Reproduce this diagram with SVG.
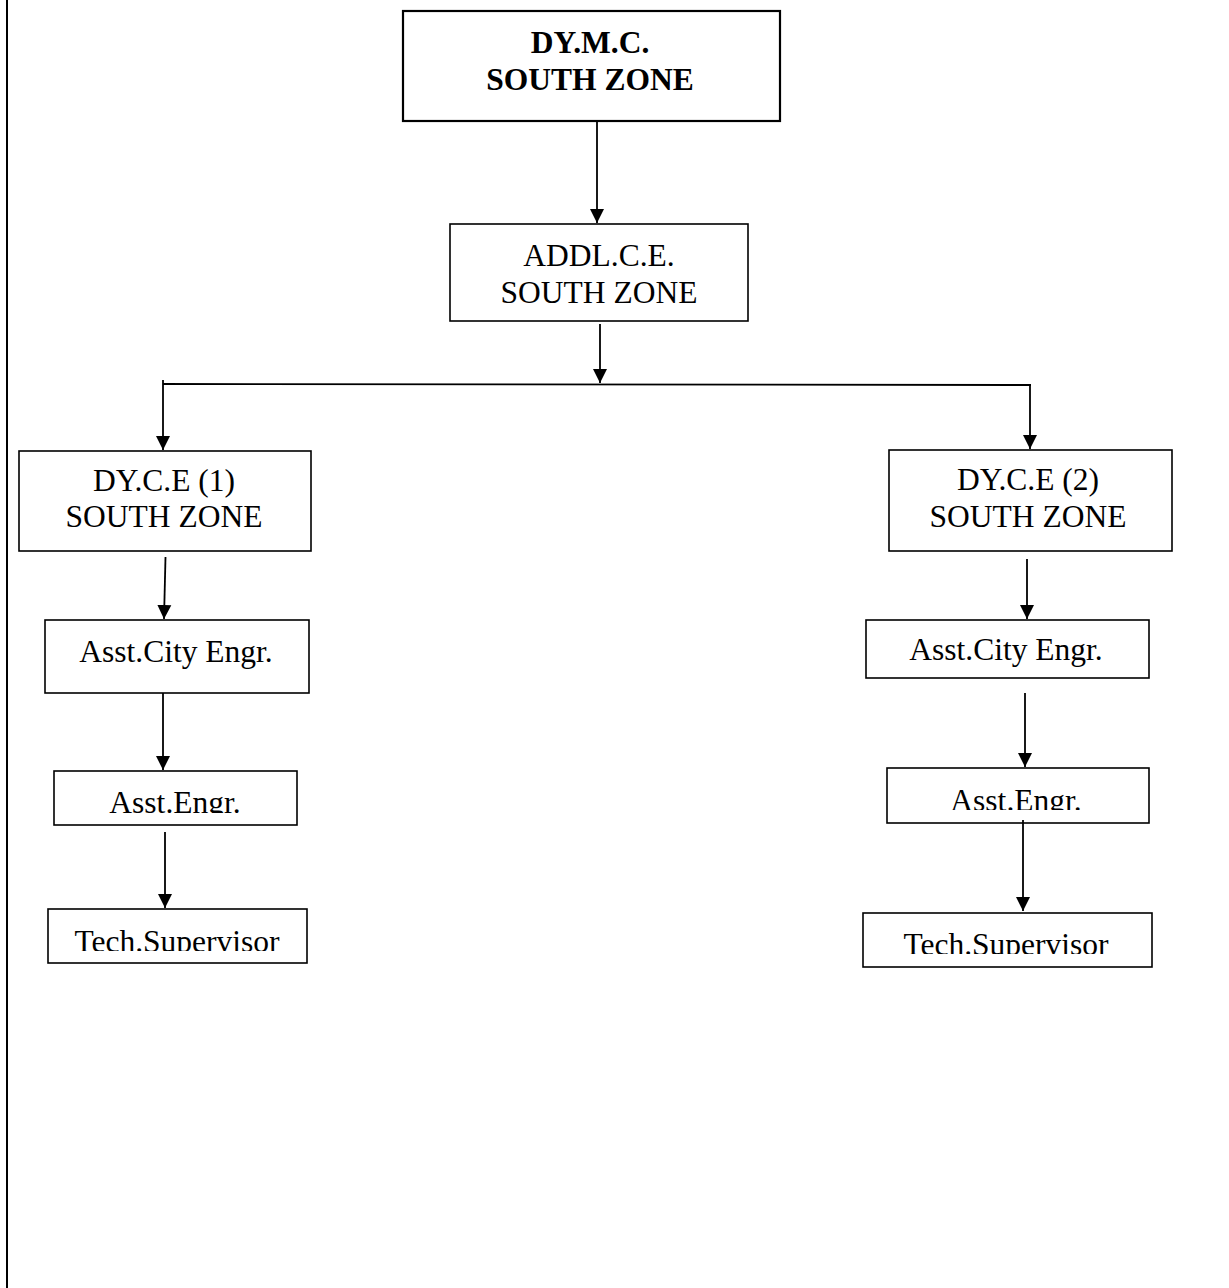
<svg xmlns="http://www.w3.org/2000/svg" width="1229" height="1288" viewBox="0 0 1229 1288">
<style>
  .box { fill: #fff; stroke: #000; stroke-width: 1.6; }
  .boxb { fill: #fff; stroke: #000; stroke-width: 2.2; }
  .t { font-family: "Liberation Serif", "Times New Roman", serif; font-size: 31.5px; fill: #000; text-anchor: middle; }
  .tb { font-family: "Liberation Serif", "Times New Roman", serif; font-size: 31.5px; font-weight: bold; fill: #000; text-anchor: middle; }
  .c { stroke: #000; stroke-width: 1.8; fill: none; }
</style>
<defs>
  <marker id="ah" markerUnits="userSpaceOnUse" markerWidth="16" markerHeight="16" viewBox="0 0 16 16" refX="14" refY="8" orient="auto">
    <path d="M0,1 L14,8 L0,15 Z" fill="#000"/>
  </marker>
  <clipPath id="cl1"><rect x="54" y="771" width="243" height="42"/></clipPath>
  <clipPath id="cl2"><rect x="48" y="909" width="259" height="42"/></clipPath>
  <clipPath id="cl3"><rect x="887" y="768" width="262" height="42"/></clipPath>
  <clipPath id="cl4"><rect x="863" y="913" width="289" height="41"/></clipPath>
</defs>
<rect width="1229" height="1288" fill="#fff"/>
<line x1="7" y1="0" x2="7" y2="1288" stroke="#000" stroke-width="2"/>

<g id="connectors">
  <line class="c" x1="597" y1="117" x2="597" y2="223" marker-end="url(#ah)"/>
  <line class="c" x1="600" y1="324" x2="600" y2="383" marker-end="url(#ah)"/>
  <line class="c" x1="163" y1="384" x2="1031" y2="385"/>
  <line class="c" x1="163" y1="380" x2="163" y2="450" marker-end="url(#ah)"/>
  <line class="c" x1="1030" y1="385" x2="1030" y2="449" marker-end="url(#ah)"/>
  <line class="c" x1="165.5" y1="557" x2="164" y2="619" marker-end="url(#ah)"/>
  <line class="c" x1="163" y1="690" x2="163" y2="770" marker-end="url(#ah)"/>
  <line class="c" x1="165" y1="832" x2="165" y2="908" marker-end="url(#ah)"/>
  <line class="c" x1="1027" y1="559" x2="1027" y2="619" marker-end="url(#ah)"/>
  <line class="c" x1="1025" y1="693" x2="1025" y2="767" marker-end="url(#ah)"/>
</g>

<g id="n-dymc">
  <rect class="boxb" x="403" y="11" width="377" height="110"/>
  <text class="tb" x="590" y="53">DY.M.C.</text>
  <text class="tb" x="590" y="90">SOUTH ZONE</text>
</g>
<g id="n-addl">
  <rect class="box" x="450" y="224" width="298" height="97"/>
  <text class="t" x="599" y="266">ADDL.C.E.</text>
  <text class="t" x="599" y="303">SOUTH ZONE</text>
</g>
<g id="n-dyce1">
  <rect class="box" x="19" y="451" width="292" height="100"/>
  <text class="t" x="164" y="491">DY.C.E (1)</text>
  <text class="t" x="164" y="527">SOUTH ZONE</text>
</g>
<g id="n-dyce2">
  <rect class="box" x="889" y="450" width="283" height="101"/>
  <text class="t" x="1028" y="490">DY.C.E (2)</text>
  <text class="t" x="1028" y="527">SOUTH ZONE</text>
</g>
<g id="n-ace1">
  <rect class="box" x="45" y="620" width="264" height="73"/>
  <text class="t" x="176" y="662">Asst.City Engr.</text>
</g>
<g id="n-ace2">
  <rect class="box" x="866" y="620" width="283" height="58"/>
  <text class="t" x="1006" y="660">Asst.City Engr.</text>
</g>
<g id="n-ae1">
  <rect class="box" x="54" y="771" width="243" height="54"/>
  <text class="t" x="175" y="813" clip-path="url(#cl1)">Asst.Engr.</text>
</g>
<g id="n-ae2">
  <rect class="box" x="887" y="768" width="262" height="55"/>
  <text class="t" x="1016" y="811" clip-path="url(#cl3)">Asst.Engr.</text>
</g>
<g id="n-ts1">
  <rect class="box" x="48" y="909" width="259" height="54"/>
  <text class="t" x="177" y="952" clip-path="url(#cl2)">Tech.Supervisor</text>
</g>
<g id="n-ts2">
  <rect class="box" x="863" y="913" width="289" height="54"/>
  <text class="t" x="1006" y="955" clip-path="url(#cl4)">Tech.Supervisor</text>
</g>
<line class="c" x1="1023" y1="820" x2="1023" y2="911" marker-end="url(#ah)"/>
</svg>
